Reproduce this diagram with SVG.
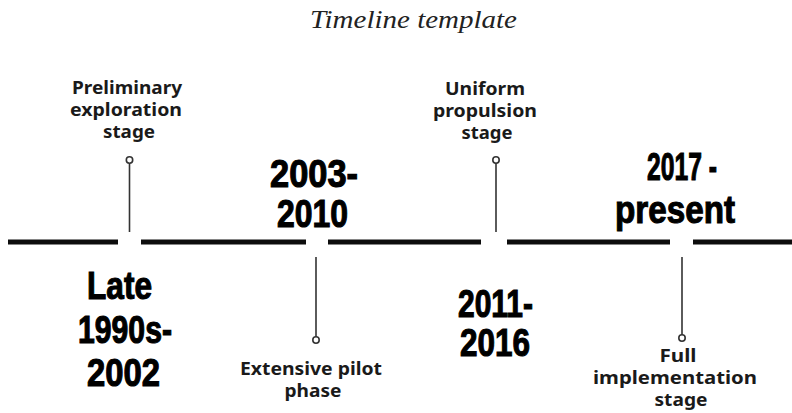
<svg xmlns="http://www.w3.org/2000/svg" width="792" height="413" viewBox="0 0 792 413">
<style>
.title{font-family:"Liberation Serif",serif;font-style:italic;font-size:26px;fill:#222}
.lbl{font-family:"Noto Sans","Open Sans",sans-serif;font-weight:bold;font-size:17.5px;fill:#1a1a1a;text-anchor:middle}
.sm{font-size:17px}
.yr{font-family:"Liberation Sans",Arial,sans-serif;font-weight:bold;font-size:38px;fill:#000;stroke:#000;stroke-width:1.1}
.axis{stroke:#0d0d0d;stroke-width:5;fill:none}
.stem{stroke:#333;stroke-width:1.6;fill:none}
.dot{stroke:#333;stroke-width:1.6;fill:#fff}
</style>
<rect width="792" height="413" fill="#fff"/>
<text class="title" x="310" y="28" textLength="207" lengthAdjust="spacingAndGlyphs">Timeline template</text>
<g id="connectors">
<line class="axis" x1="8" y1="242" x2="118" y2="242"/>
<line class="axis" x1="141" y1="242" x2="306" y2="242"/>
<line class="axis" x1="328" y1="242" x2="481" y2="242"/>
<line class="axis" x1="507" y1="242" x2="670" y2="242"/>
<line class="axis" x1="693" y1="242" x2="792" y2="242"/>
<line class="stem" x1="129.5" y1="163" x2="129.5" y2="232"/>
<line class="stem" x1="316" y1="257" x2="316" y2="337"/>
<line class="stem" x1="496" y1="163" x2="496" y2="232"/>
<line class="stem" x1="682" y1="257" x2="682" y2="335"/>
<circle class="dot" cx="129.5" cy="160" r="3.2"/>
<circle class="dot" cx="316" cy="340" r="3.2"/>
<circle class="dot" cx="496" cy="160" r="3.2"/>
<circle class="dot" cx="682" cy="338" r="3.2"/>
</g>
<g id="node-prelim">
<text class="lbl" x="127" y="94" textLength="110" lengthAdjust="spacingAndGlyphs">Preliminary</text>
<text class="lbl" x="126" y="116" textLength="112" lengthAdjust="spacingAndGlyphs">exploration</text>
<text class="lbl" x="129" y="138" textLength="52" lengthAdjust="spacingAndGlyphs">stage</text>
</g>
<g id="node-late">
<text class="yr" x="87" y="299" textLength="65" lengthAdjust="spacingAndGlyphs">Late</text>
<text class="yr" x="78" y="343" textLength="94" lengthAdjust="spacingAndGlyphs">1990s-</text>
<text class="yr" x="87" y="386" textLength="73" lengthAdjust="spacingAndGlyphs">2002</text>
</g>
<g id="node-2003">
<text class="yr" x="270" y="187" textLength="88" lengthAdjust="spacingAndGlyphs">2003-</text>
<text class="yr" x="277" y="227" textLength="71" lengthAdjust="spacingAndGlyphs">2010</text>
</g>
<g id="node-pilot">
<text class="lbl" x="311" y="375" textLength="142" lengthAdjust="spacingAndGlyphs">Extensive pilot</text>
<text class="lbl" x="313" y="397" textLength="57" lengthAdjust="spacingAndGlyphs">phase</text>
</g>
<g id="node-uniform">
<text class="lbl" x="485" y="95" textLength="80" lengthAdjust="spacingAndGlyphs">Uniform</text>
<text class="lbl" x="485" y="117" textLength="104" lengthAdjust="spacingAndGlyphs">propulsion</text>
<text class="lbl" x="487" y="139" textLength="51" lengthAdjust="spacingAndGlyphs">stage</text>
</g>
<g id="node-2011">
<text class="yr" x="458" y="317" textLength="75" lengthAdjust="spacingAndGlyphs">2011-</text>
<text class="yr" x="460" y="356" textLength="70" lengthAdjust="spacingAndGlyphs">2016</text>
</g>
<g id="node-2017">
<text class="yr" x="647" y="180" textLength="70" lengthAdjust="spacingAndGlyphs">2017 -</text>
<text class="yr" x="615" y="223" textLength="120" lengthAdjust="spacingAndGlyphs">present</text>
</g>
<g id="node-full">
<text class="lbl sm" x="678" y="362" textLength="37" lengthAdjust="spacingAndGlyphs">Full</text>
<text class="lbl sm" x="675" y="384" textLength="164" lengthAdjust="spacingAndGlyphs">implementation</text>
<text class="lbl sm" x="681" y="406" textLength="53" lengthAdjust="spacingAndGlyphs">stage</text>
</g>
</svg>
